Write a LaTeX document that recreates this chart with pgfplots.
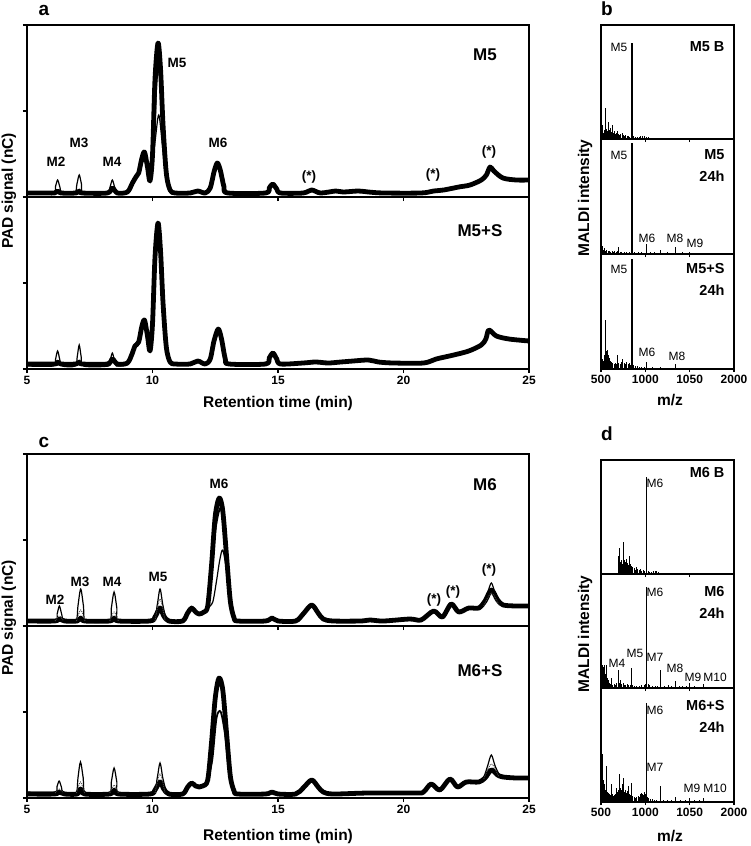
\documentclass[border=0pt]{standalone}
\usepackage{fontspec}
\setmainfont{Liberation Sans}
\usepackage{pgfplots}
\pgfplotsset{compat=1.18}
\newcommand{\fLet}{\bfseries\fontsize{19}{22}\selectfont}
\newcommand{\fLab}{\bfseries\fontsize{15.5}{18}\selectfont}
\newcommand{\fTit}{\bfseries\fontsize{17}{20}\selectfont}
\newcommand{\fSub}{\bfseries\fontsize{14.5}{17}\selectfont}
\newcommand{\fPk}{\bfseries\fontsize{13.5}{16}\selectfont}
\newcommand{\fMz}{\fontsize{12}{14}\selectfont}
\pgfplotsset{
  base/.style={scale only axis, axis line style={line width=1.4pt}, tick style={line width=1.3pt, black},
    tick align=outside, major tick length=4pt,
    ticklabel style={font=\bfseries\fontsize{12}{14}\selectfont},
    /pgf/number format/assume math mode=true},
  chrom/.style={base, width=502pt, height=172pt, xmin=5, xmax=25, ymin=0, ymax=172,
    xtick={5,10,15,20,25}, xticklabels={5,10,15,20,25}, ytick={0,86,172}, yticklabels={},
    xtick pos=left, ytick pos=left},
  maldi/.style={base, width=133pt, height=114pt, xmin=500, xmax=2000, ymin=0, ymax=114,
    xtick={500,1000,1500,2000}, xticklabels={500,1000,1050,2000}, ytick=\empty,
    xtick pos=left, major tick length=3pt},
  thickt/.style={black, line width=4.8pt, smooth, tension=0.5, line join=round, mark=none},
  medt/.style={black, line width=1.8pt, smooth, tension=0.5, mark=none},
  thint/.style={black, line width=1.2pt, smooth, tension=0.5, mark=none},
  dott/.style={black!70, line width=0.9pt, densely dotted, smooth, tension=0.5, mark=none},
  spec/.style={ycomb, black, line width=1pt, mark=none},
  mainpk/.style={ycomb, black, line width=1.8pt, mark=none},
}
\begin{document}
\begin{tikzpicture}
\useasboundingbox (0pt,0pt) rectangle (750pt,-846pt);
% ---------------- panel a ----------------
\begin{axis}[chrom, at={(27pt,-197pt)}, anchor=south west, xticklabels={}]
\addplot[thickt] coordinates {(5,4)(5.8,4)(6.1,4)(6.22,6)(6.35,4)(6.95,4)(7.08,6)(7.2,4)(8.2,4)(8.4,9)(8.6,4)(9.0,5)(9.2,14)(9.34,20)(9.45,24)(9.57,38)(9.68,45)(9.8,30)(9.9,16)(10.0,42)(10.1,118)(10.22,154)(10.32,128)(10.42,72)(10.55,24)(10.7,7)(10.9,4)(11.5,4)(11.8,6)(12.1,4)(12.3,9)(12.45,25)(12.58,34)(12.7,27)(12.85,10)(13.0,4)(14.5,4)(14.65,9)(14.79,13)(14.95,8)(15.1,4)(16.0,4)(16.34,7)(16.7,4)(17.3,6)(17.6,5)(18.2,6)(18.6,5)(19.2,4)(20.7,4)(21.2,6)(21.6,7)(22.2,10)(22.65,12)(23.1,17)(23.3,22)(23.45,30)(23.6,26)(23.96,19)(24.5,17)(25,17)};
\addplot[medt] coordinates {(9.9,16)(10.05,50)(10.15,110)(10.24,130)(10.34,105)(10.45,55)(10.6,15)(10.75,5)};
\addplot[thint] coordinates {(5,4)(6.05,4)(6.13,10)(6.22,17)(6.31,10)(6.4,4)(6.9,4)(6.99,13)(7.08,22)(7.17,13)(7.26,4)(8.22,4)(8.31,10)(8.4,17)(8.49,10)(8.58,4)(9.0,5)(9.34,18)(9.68,37)(9.9,16)(10.1,55)(10.25,82)(10.4,50)(10.55,15)(10.75,4)(11.0,4)};
\end{axis}
\begin{axis}[chrom, at={(27pt,-369pt)}, anchor=south west]
\addplot[thickt] coordinates {(5,5)(6.1,5)(6.22,7)(6.35,5)(6.95,5)(7.08,7)(7.2,5)(8.2,5)(8.4,10)(8.6,5)(9.0,6)(9.2,16)(9.3,23)(9.45,27)(9.57,42)(9.68,49)(9.8,33)(9.9,18)(10.0,45)(10.1,112)(10.22,146)(10.32,118)(10.42,66)(10.55,22)(10.7,7)(10.9,5)(11.5,5)(11.8,8)(12.1,5)(12.3,10)(12.45,28)(12.62,40)(12.75,30)(12.9,10)(13.05,5)(14.5,5)(14.65,11)(14.8,16)(14.95,10)(15.1,5)(16,6)(16.5,7)(17,6)(17.5,7)(18,8)(18.6,9)(19.0,7)(19.6,6)(20.8,6)(21.3,10)(22.0,14)(22.6,18)(23.1,24)(23.28,30)(23.4,39)(23.7,33)(24.2,30)(25,28)};
\addplot[thint] coordinates {(5,3)(6.05,3)(6.13,9)(6.22,18)(6.31,9)(6.4,3)(6.92,3)(7.0,12)(7.08,24)(7.16,12)(7.25,3)(8.25,3)(8.32,9)(8.4,16)(8.48,9)(8.56,3)(9.0,4)};
\end{axis}
% ---------------- panel b ----------------
\begin{axis}[maldi, at={(601pt,-139pt)}, anchor=south west, xticklabels={}]
\addplot[spec] coordinates {(505,8)(512,12)(520,14)(528,6)(535,9)(545,7)(556,31)(562,10)(570,8)(580,12)(588,17)(596,9)(605,11)(615,7)(625,10)(633,14)(642,6)(652,8)(663,5)(675,6)(688,8)(700,5)(712,4)(725,5)(740,6)(752,4)(765,3)(780,4)(795,3)(810,3)(825,2)(840,3)(870,3)(890,2)(910,2)(930,2)(950,3)(970,3)(990,3)(1010,2)(1030,2)(1050,1)(1080,1)};
\addplot[mainpk] coordinates {(851,96)};
\end{axis}
\begin{axis}[maldi, at={(601pt,-254pt)}, anchor=south west, height=115pt, ymax=115, xticklabels={}]
\addplot[spec] coordinates {(505,6)(512,8)(520,5)(530,4)(540,6)(552,3)(565,4)(580,3)(595,3)(610,2)(625,3)(640,2)(655,3)(670,2)(689,3)(700,7)(715,2)(730,2)(760,2)(790,2)(820,2)(880,2)(920,2)(960,2)(1013,10)(1060,2)(1100,2)(1175,4)(1250,2)(1337,7)(1420,2)(1499,2)(1560,1)(1661,1)};
\addplot[mainpk] coordinates {(851,111)};
\end{axis}
\begin{axis}[maldi, at={(601pt,-369pt)}, anchor=south west, height=115pt, ymax=115]
\addplot[spec] coordinates {(505,6)(515,10)(525,8)(535,14)(545,12)(556,49)(562,18)(570,19)(578,15)(588,14)(598,11)(610,8)(622,7)(635,6)(648,5)(660,6)(675,5)(689,14)(700,6)(715,5)(730,7)(744,10)(760,6)(775,5)(790,7)(805,5)(820,6)(835,4)(870,4)(890,3)(910,3)(930,2)(960,2)(990,2)(1013,7)(1080,2)(1175,2)(1250,1)(1337,5)(1450,1)};
\addplot[mainpk] coordinates {(851,110)};
\end{axis}
% ---------------- panel c ----------------
\begin{axis}[chrom, at={(27pt,-626pt)}, anchor=south west, xticklabels={}]
\addplot[thickt] coordinates {(5,5)(6.1,5)(6.29,7)(6.5,5)(7.0,5)(7.14,8)(7.3,5)(8.3,5)(8.47,8)(8.65,5)(9.9,5)(10.1,9)(10.3,18)(10.45,10)(10.65,5)(11.2,5)(11.4,13)(11.56,18)(11.72,14)(11.86,12)(12.05,14)(12.2,20)(12.35,60)(12.5,110)(12.66,128)(12.8,115)(12.95,70)(13.1,25)(13.25,8)(13.4,5)(14.5,5)(14.76,8)(15.0,5)(15.7,5)(16.0,12)(16.34,21)(16.6,13)(16.8,7)(17.2,5)(18.3,5)(18.66,6)(19.2,5)(20.25,7)(20.7,6)(21.2,15)(21.55,9)(21.9,22)(22.2,14)(22.6,18)(23.0,18)(23.25,25)(23.5,36)(23.75,26)(23.97,21)(24.5,20)(25,20)};
\addplot[medt] coordinates {(12.2,20)(12.35,50)(12.5,95)(12.7,118)(12.85,100)(13.0,55)(13.15,18)(13.3,6)};
\addplot[thint] coordinates {(12.2,18)(12.4,24)(12.55,45)(12.68,66)(12.8,76)(12.95,55)(13.1,20)(13.3,6)};
\addplot[thint] coordinates {(5,5)(6.1,5)(6.2,12)(6.29,20)(6.38,12)(6.48,5)(6.95,5)(7.03,20)(7.14,37)(7.25,20)(7.35,5)(8.27,5)(8.36,18)(8.47,34)(8.58,18)(8.68,5)(10.0,5)(10.18,20)(10.3,37)(10.42,20)(10.6,5)(11.0,5)};
\addplot[dott] coordinates {(6.12,5)(6.29,10)(6.46,5)};
\addplot[dott] coordinates {(6.97,5)(7.14,16)(7.31,5)};
\addplot[dott] coordinates {(8.3,5)(8.47,14)(8.64,5)};
\addplot[dott] coordinates {(10.1,5)(10.3,27)(10.5,5)};
\addplot[thint] coordinates {(23.0,18)(23.2,22)(23.35,33)(23.5,43)(23.65,33)(23.85,22)(24.0,21)};
\addplot[dott] coordinates {(23.2,20)(23.5,33)(23.8,21)};
\end{axis}
\begin{axis}[chrom, at={(27pt,-798pt)}, anchor=south west]
\addplot[thickt] coordinates {(5,4)(6.1,4)(6.28,6)(6.5,4)(7.0,4)(7.13,9)(7.3,4)(8.3,4)(8.47,8)(8.65,4)(9.9,4)(10.1,8)(10.3,16)(10.45,9)(10.65,4)(11.2,4)(11.4,11)(11.56,15)(11.72,12)(11.86,11)(12.0,12)(12.2,18)(12.35,55)(12.5,100)(12.65,120)(12.8,108)(12.95,65)(13.1,22)(13.25,7)(13.4,4)(14.5,4)(14.76,6)(15.0,4)(15.7,4)(16.0,10)(16.34,18)(16.6,11)(16.8,6)(17.2,4)(18.6,5)(20.5,5)(20.8,6)(21.1,14)(21.45,8)(21.85,19)(22.15,11)(22.5,16)(23.0,16)(23.25,20)(23.5,28)(23.75,23)(23.97,21)(24.5,20)(25,20)};
\addplot[medt] coordinates {(12.2,18)(12.38,38)(12.55,80)(12.72,86)(12.9,62)(13.05,25)(13.2,7)};
\addplot[thint] coordinates {(5,6)(6.1,6)(6.19,11)(6.28,17)(6.37,11)(6.46,5)(6.95,5)(7.03,20)(7.13,36)(7.24,20)(7.34,5)(8.27,5)(8.36,16)(8.47,30)(8.58,16)(8.68,5)(10.0,5)(10.18,19)(10.3,35)(10.42,19)(10.6,5)(11.0,5)};
\addplot[dott] coordinates {(6.12,5)(6.28,9)(6.44,5)};
\addplot[dott] coordinates {(6.97,5)(7.13,16)(7.29,5)};
\addplot[dott] coordinates {(8.3,5)(8.47,13)(8.64,5)};
\addplot[dott] coordinates {(10.1,5)(10.3,24)(10.5,5)};
\addplot[thint] coordinates {(23.0,16)(23.2,21)(23.35,32)(23.5,43)(23.65,32)(23.85,22)(24.0,21)};
\addplot[dott] coordinates {(23.2,19)(23.5,34)(23.8,21)};
\end{axis}
% ---------------- panel d ----------------
\begin{axis}[maldi, at={(601pt,-574pt)}, anchor=south west, xticklabels={}]
\addplot[spec] coordinates {(700,18)(706,10)(714,26)(722,12)(730,14)(740,10)(752,32)(760,14)(770,13)(780,12)(790,15)(800,11)(810,9)(820,18)(829,10)(840,8)(850,7)(860,5)(875,6)(890,4)(900,7)(915,5)(930,4)(945,5)(960,3)(975,4)(990,3)(1030,3)(1050,2)(1070,2)(1090,3)(1110,3)(1130,3)(1150,2)(1170,1)(1200,1)};
\addplot[mainpk] coordinates {(1013,97)};
\end{axis}
\begin{axis}[maldi, at={(601pt,-688pt)}, anchor=south west, xticklabels={}]
\addplot[spec] coordinates {(510,20)(520,23)(530,21)(540,23)(550,14)(560,23)(570,10)(580,6)(590,8)(600,5)(612,4)(620,10)(635,3)(650,4)(665,3)(680,5)(695,18)(705,5)(720,8)(735,4)(750,5)(765,3)(780,3)(795,4)(810,3)(830,3)(846,20)(860,3)(880,2)(900,2)(930,2)(960,3)(985,3)(1000,4)(1030,4)(1050,3)(1080,2)(1110,2)(1140,2)(1175,18)(1220,2)(1260,3)(1300,2)(1337,7)(1380,2)(1420,2)(1460,2)(1499,5)(1560,2)(1600,1)(1661,4)(1720,1)(1780,1)};
\addplot[mainpk] coordinates {(1013,101)};
\end{axis}
\begin{axis}[maldi, at={(601pt,-802pt)}, anchor=south west]
\addplot[spec] coordinates {(505,20)(512,48)(520,30)(530,22)(540,18)(548,12)(557,36)(565,14)(575,10)(585,9)(595,8)(605,7)(612,6)(620,18)(630,8)(640,6)(650,7)(660,8)(670,9)(680,14)(690,10)(700,12)(707,20)(714,28)(722,14)(730,12)(740,18)(750,16)(759,24)(767,10)(775,12)(785,9)(795,11)(810,16)(820,8)(830,7)(846,19)(860,6)(875,5)(890,4)(905,5)(920,6)(935,5)(950,8)(960,9)(970,8)(980,7)(990,10)(1000,8)(1025,5)(1040,4)(1060,3)(1080,3)(1100,2)(1130,2)(1175,16)(1210,2)(1250,2)(1290,2)(1337,5)(1400,2)(1450,2)(1499,4)(1560,2)(1610,2)(1661,4)(1700,1)(1760,1)};
\addplot[mainpk] coordinates {(1013,99)};
\end{axis}
% ---------------- text ----------------
\begin{scope}[x=1pt,y=-1pt]
\node[font=\fLet, anchor=base] at (44,15) {a};
\node[font=\fLet, anchor=base] at (607,15) {b};
\node[font=\fLet, anchor=base] at (44,447) {c};
\node[font=\fLet, anchor=base] at (607,440) {d};
\node[font=\fLab, rotate=90] at (9,191) {PAD signal (nC)};
\node[font=\fLab, rotate=90] at (9,618) {PAD signal (nC)};
\node[font=\fLab] at (278,403) {Retention time (min)};
\node[font=\fLab] at (278,836) {Retention time (min)};
\node[font=\fLab, rotate=90] at (585,198) {MALDI intensity};
\node[font=\fLab, rotate=90] at (585,634) {MALDI intensity};
\node[font=\fLab] at (670,400) {m/z};
\node[font=\fLab] at (670,836) {m/z};
% chromatogram titles
\node[font=\fTit] at (485,55) {M5};
\node[font=\fTit] at (480,231) {M5+S};
\node[font=\fTit] at (485,485) {M6};
\node[font=\fTit] at (480,671) {M6+S};
% chromatogram peak labels a
\node[font=\fPk] at (56,162) {M2};
\node[font=\fPk] at (79,143) {M3};
\node[font=\fPk] at (112,162) {M4};
\node[font=\fPk] at (177,63) {M5};
\node[font=\fPk] at (218,143) {M6};
\node[font=\fPk] at (309,177) {(*)};
\node[font=\fPk] at (433,175) {(*)};
\node[font=\fPk] at (489,152) {(*)};
% chromatogram peak labels c
\node[font=\fPk] at (55,600) {M2};
\node[font=\fPk] at (80,582) {M3};
\node[font=\fPk] at (112,582) {M4};
\node[font=\fPk] at (158,577) {M5};
\node[font=\fPk] at (219,484) {M6};
\node[font=\fPk] at (434,600) {(*)};
\node[font=\fPk] at (453,592) {(*)};
\node[font=\fPk] at (489,570) {(*)};
% MALDI b
\node[font=\fSub, anchor=east] at (728,47) {M5 B};
\node[font=\fSub, anchor=east] at (728,155) {M5};
\node[font=\fSub, anchor=east] at (728,176) {24h};
\node[font=\fSub, anchor=east] at (728,269) {M5+S};
\node[font=\fSub, anchor=east] at (728,290) {24h};
\node[font=\fMz] at (619,47) {M5};
\node[font=\fMz] at (619,155) {M5};
\node[font=\fMz] at (647,238) {M6};
\node[font=\fMz] at (675,238) {M8};
\node[font=\fMz] at (695,243) {M9};
\node[font=\fMz] at (619,269) {M5};
\node[font=\fMz] at (647,352) {M6};
\node[font=\fMz] at (677,356) {M8};
% MALDI d
\node[font=\fSub, anchor=east] at (728,473) {M6 B};
\node[font=\fSub, anchor=east] at (728,592) {M6};
\node[font=\fSub, anchor=east] at (728,613) {24h};
\node[font=\fSub, anchor=east] at (728,705) {M6+S};
\node[font=\fSub, anchor=east] at (728,727) {24h};
\node[font=\fMz] at (655,483) {M6};
\node[font=\fMz] at (655,592) {M6};
\node[font=\fMz] at (635,653) {M5};
\node[font=\fMz] at (617,663) {M4};
\node[font=\fMz] at (655,657) {M7};
\node[font=\fMz] at (675,668) {M8};
\node[font=\fMz] at (693,677) {M9};
\node[font=\fMz] at (715,677) {M10};
\node[font=\fMz] at (655,710) {M6};
\node[font=\fMz] at (655,767) {M7};
\node[font=\fMz] at (692,788) {M9};
\node[font=\fMz] at (715,788) {M10};
\end{scope}
\end{tikzpicture}
\end{document}
